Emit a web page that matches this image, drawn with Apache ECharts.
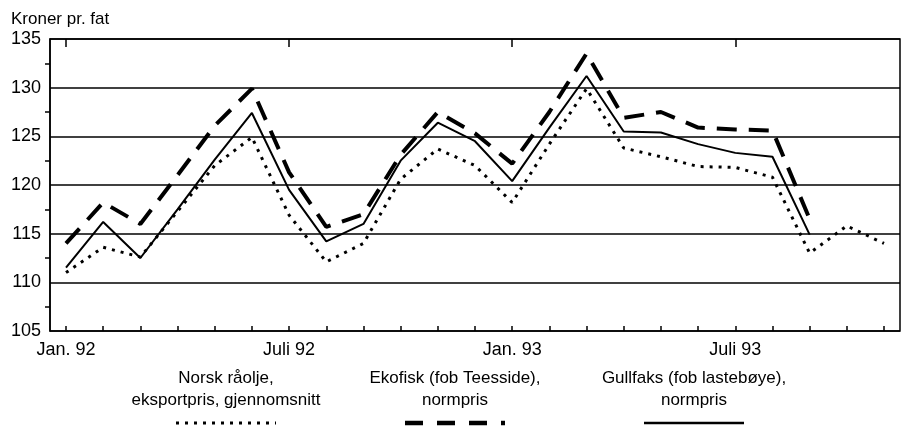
<!DOCTYPE html>
<html>
<head>
<meta charset="utf-8">
<title>Kroner pr. fat</title>
<script src="https://cdn.jsdelivr.net/npm/echarts@6/dist/echarts.min.js"></script>
<style>
  html, body { margin: 0; padding: 0; background: #fff; }
</style>
</head>
<body>
<div id="myChart" style="width:909px;height:430px;"></div>
<script>
// maaneder jan. 92 - nov. 93
var months = [
  "Jan. 92", "Feb. 92", "Mars 92", "April 92", "Mai 92", "Juni 92",
  "Juli 92", "Aug. 92", "Sep. 92", "Okt. 92", "Nov. 92", "Des. 92",
  "Jan. 93", "Feb. 93", "Mars 93", "April 93", "Mai 93", "Juni 93",
  "Juli 93", "Aug. 93", "Sep. 93", "Okt. 93", "Nov. 93"
];
var yTicks = [105, 110, 115, 120, 125, 130, 135];

// Norsk raaolje, eksportpris, gjennomsnitt (prikket)
var norsk = [111.0, 113.6, 112.6, 117.3, 122.0, 124.9, 116.9, 112.1, 114.0, 120.6, 123.7, 122.0,
  118.2, 124.2, 129.9, 123.8, 122.9, 121.9, 121.8, 120.8, 113.0, 115.8, 114.0];
// Ekofisk (fob Teesside), normpris (stiplet)
var ekofisk = [114.0, 118.2, 116.0, 121.0, 126.1, 129.9, 121.3, 115.7, 117.0, 123.1, 127.5, 125.3,
  122.2, 127.5, 133.5, 126.9, 127.5, 125.9, 125.7, 125.6, 116.5, "-", "-"];
// Gullfaks (fob lastebøye), normpris (heltrukket)
var gullfaks = [111.5, 116.2, 112.5, 117.5, 122.6, 127.4, 119.5, 114.2, 116.0, 122.5, 126.4, 124.5,
  120.4, 125.9, 131.2, 125.5, 125.4, 124.2, 123.3, 122.9, 114.9, "-", "-"];

var legendItems = [
  { lines: ["Norsk råolje,", "eksportpris, gjennomsnitt"], type: "dotted" },
  { lines: ["Ekofisk (fob Teesside),", "normpris"], type: "dashed" },
  { lines: ["Gullfaks (fob lastebøye),", "normpris"], type: "solid" }
];

var FONT = "'Liberation Sans', Arial, sans-serif";
var dotStyle = { color: "#000", width: 3, type: [3, 6], cap: "butt" };
var dashStyle = { color: "#000", width: 4, type: [20, 12], cap: "butt" };
var solidStyle = { color: "#000", width: 2, type: "solid" };
var legendDash = { dotted: [3, 6], dashed: [18, 14], solid: null };

var myChart = echarts.init(document.getElementById("myChart"), null, { renderer: "canvas" });

// legend built by hand: two text lines over a line sample
var legendX = [226, 455, 694];
var graphics = [];
legendItems.forEach(function(item, i) {
  graphics.push({
    type: "text",
    x: legendX[i],
    y: 367,
    style: {
      text: item.lines.join("\n"),
      align: "center",
      verticalAlign: "top",
      font: "17px " + FONT,
      lineHeight: 22,
      fill: "#000"
    }
  });
  var lw = item.type === "dotted" ? 3 : (item.type === "dashed" ? 4.5 : 2.5);
  graphics.push({
    type: "line",
    shape: { x1: legendX[i] - 50, y1: 423, x2: legendX[i] + 50, y2: 423 },
    style: { stroke: "#000", lineWidth: lw, lineDash: legendDash[item.type], lineCap: "butt" }
  });
});

var option = {
  backgroundColor: "#fff",
  animation: false,
  textStyle: { fontFamily: FONT, color: "#000" },
  title: {
    text: "Kroner pr. fat",
    left: 6,
    top: 6,
    textStyle: { fontFamily: FONT, fontSize: 17, fontWeight: "normal", color: "#000" }
  },
  graphic: graphics,
  grid: [
    // frame with y axis and grid lines
    { left: 50, right: 9, top: 39, bottom: 99, show: true, borderColor: "#000", borderWidth: 1.5, backgroundColor: "transparent" },
    // data area, ticks from jan. 92 to nov. 93
    { left: 66, right: 25, top: 39, bottom: 99 }
  ],
  xAxis: [
    { gridIndex: 0, type: "value", min: 0, max: 1, show: false },
    {
      gridIndex: 1,
      type: "category",
      data: months,
      boundaryGap: false,
      axisLine: { show: false },
      axisTick: { show: true, inside: true, interval: 0, length: 5, lineStyle: { color: "#000", width: 1.5 } },
      axisLabel: {
        interval: function(idx) { return idx % 6 === 0; },
        color: "#000",
        fontFamily: FONT,
        fontSize: 18,
        margin: 10
      },
      splitLine: { show: false }
    },
    {
      gridIndex: 1,
      type: "category",
      data: months,
      boundaryGap: false,
      axisLine: { show: false },
      axisTick: { show: true, inside: true, interval: function(idx) { return idx % 6 === 0; }, length: 8, lineStyle: { color: "#000", width: 1.5 } },
      axisLabel: { show: false },
      splitLine: { show: false }
    }
  ],
  yAxis: [
    {
      gridIndex: 0,
      type: "value",
      min: yTicks[0],
      max: yTicks[yTicks.length - 1],
      interval: 5,
      axisLine: { show: true, lineStyle: { color: "#000", width: 1.5 } },
      axisTick: { show: false },
      minorTick: { show: true, splitNumber: 2, length: 5, lineStyle: { color: "#000", width: 1.5 } },
      axisLabel: { color: "#000", fontFamily: FONT, fontSize: 18, margin: 9 },
      splitLine: { show: true, lineStyle: { color: "#000", width: 1.5 } }
    },
    { gridIndex: 1, type: "value", min: yTicks[0], max: yTicks[yTicks.length - 1], show: false }
  ],
  series: [
    {
      name: "Norsk råolje, eksportpris, gjennomsnitt",
      type: "line",
      xAxisIndex: 1,
      yAxisIndex: 1,
      data: norsk,
      symbol: "none",
      lineStyle: dotStyle,
      z: 3
    },
    {
      name: "Ekofisk (fob Teesside), normpris",
      type: "line",
      xAxisIndex: 1,
      yAxisIndex: 1,
      data: ekofisk,
      symbol: "none",
      lineStyle: dashStyle,
      z: 4
    },
    {
      name: "Gullfaks (fob lastebøye), normpris",
      type: "line",
      xAxisIndex: 1,
      yAxisIndex: 1,
      data: gullfaks,
      symbol: "none",
      lineStyle: solidStyle,
      z: 5
    }
  ]
};

myChart.setOption(option);
</script>
</body>
</html>
